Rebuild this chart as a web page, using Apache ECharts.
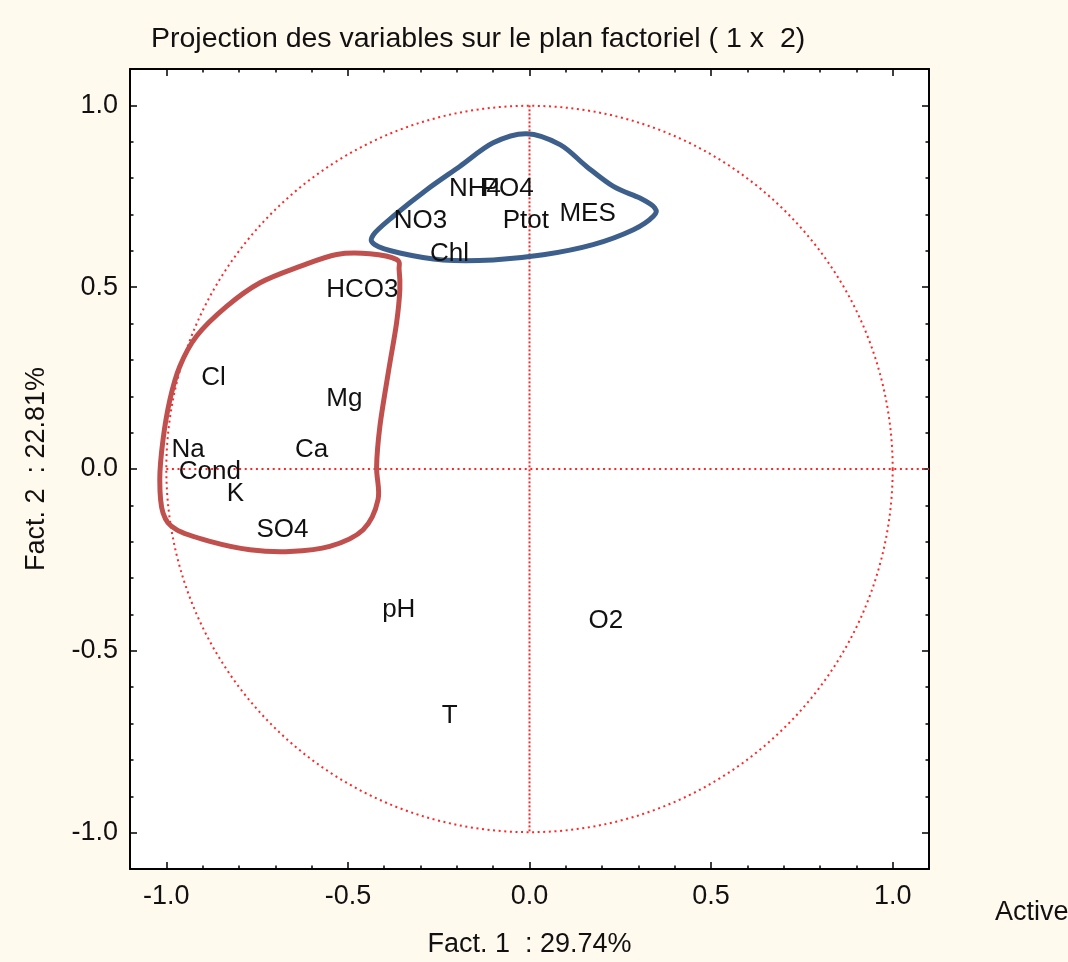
<!DOCTYPE html>
<html>
<head>
<meta charset="utf-8">
<title>Projection des variables sur le plan factoriel</title>
<script src="https://cdn.jsdelivr.net/npm/echarts@6/dist/echarts.min.js"></script>
<style>
  html, body { margin: 0; padding: 0; background: #fff9ee; }
  #chart { width: 1068px; height: 962px; }
</style>
</head>
<body>
<div id="chart"></div>
<script>
// Variable coordinates on factors 1 and 2
const varNames = ['NH4', 'PO4', 'NO3', 'Ptot', 'MES', 'Chl', 'HCO3', 'Cl', 'Mg', 'Na', 'Ca', 'Cond', 'K', 'SO4', 'pH', 'O2', 'T'];
const fact1 = [-0.15, -0.06, -0.30, -0.01, 0.16, -0.22, -0.46, -0.87, -0.51, -0.94, -0.60, -0.88, -0.81, -0.68, -0.36, 0.21, -0.22];
const fact2 = [0.78, 0.78, 0.69, 0.69, 0.71, 0.60, 0.50, 0.26, 0.20, 0.06, 0.06, 0.00, -0.06, -0.16, -0.38, -0.41, -0.67];

// Hand-drawn grouping outlines (factor coordinates)
const blueX = [-0.008, 0.084, 0.157, 0.231, 0.304, 0.345, 0.341, 0.286, 0.175, 0.038, -0.100, -0.238, -0.357, -0.426, -0.430, -0.375, -0.283, -0.192, -0.100];
const blueY = [0.922, 0.892, 0.832, 0.777, 0.745, 0.718, 0.695, 0.658, 0.617, 0.589, 0.575, 0.575, 0.594, 0.617, 0.644, 0.695, 0.768, 0.832, 0.897];
const redX = [-0.632, -0.742, -0.834, -0.917, -0.963, -0.990, -1.009, -1.018, -1.009, -0.972, -0.880, -0.770, -0.660, -0.550, -0.458, -0.417, -0.421, -0.412, -0.389, -0.366, -0.357, -0.359, -0.366, -0.440, -0.531];
const redY = [0.557, 0.512, 0.447, 0.365, 0.282, 0.191, 0.081, -0.029, -0.121, -0.167, -0.199, -0.222, -0.227, -0.213, -0.167, -0.084, 0.007, 0.117, 0.264, 0.402, 0.493, 0.548, 0.576, 0.592, 0.590];

// Axis ticks and labels
const majorTicks = [-1.0, -0.5, 0.0, 0.5, 1.0];
const minorTicks = [-0.9, -0.8, -0.7, -0.6, -0.4, -0.3, -0.2, -0.1, 0.1, 0.2, 0.3, 0.4, 0.6, 0.7, 0.8, 0.9];
const axisMin = -1.1, axisMax = 1.1;

const FONT = 'Liberation Sans, Arial, sans-serif';
const TEXT = '#111111';
const DOT_RED = '#ff2626';

const outlines = [
  { xs: blueX, ys: blueY, color: '#3d5f8b' },
  { xs: redX, ys: redY, color: '#c0504d' }
];

// Closed Catmull-Rom spline through pixel points, as SVG path data
function closedSpline(pts) {
  const n = pts.length;
  let d = 'M' + pts[0][0] + ',' + pts[0][1];
  for (let i = 0; i < n; i++) {
    const p0 = pts[(i - 1 + n) % n], p1 = pts[i], p2 = pts[(i + 1) % n], p3 = pts[(i + 2) % n];
    const c1x = p1[0] + (p2[0] - p0[0]) / 6, c1y = p1[1] + (p2[1] - p0[1]) / 6;
    const c2x = p2[0] - (p3[0] - p1[0]) / 6, c2y = p2[1] - (p3[1] - p1[1]) / 6;
    d += 'C' + c1x + ',' + c1y + ' ' + c2x + ',' + c2y + ' ' + p2[0] + ',' + p2[1];
  }
  return d + 'Z';
}

function makeX(position, ticks, len, withLabels) {
  const ax = {
    type: 'value', min: axisMin, max: axisMax, position: position,
    axisLine: { show: true, onZero: false, lineStyle: { color: '#000', width: 1.5 } },
    axisTick: { show: true, inside: true, length: len, customValues: ticks, lineStyle: { color: '#000', width: 1.5 } },
    axisLabel: { show: false },
    splitLine: { show: false }
  };
  if (withLabels) {
    ax.axisLabel = { show: true, customValues: majorTicks, formatter: v => v.toFixed(1),
      fontSize: 27, color: TEXT, fontFamily: FONT, margin: 14 };
  }
  return ax;
}
function makeY(position, ticks, len, withLabels) {
  const ax = makeX(position, ticks, len, false);
  if (withLabels) {
    ax.axisLabel = { show: true, customValues: majorTicks, formatter: v => v.toFixed(1),
      fontSize: 27, color: TEXT, fontFamily: FONT, margin: 12 };
  }
  return ax;
}

const xAxes = [
  makeX('bottom', majorTicks, 7, true),
  makeX('bottom', minorTicks, 3.5, false),
  makeX('top', majorTicks, 7, false),
  makeX('top', minorTicks, 3.5, false)
];
Object.assign(xAxes[0], {
  name: 'Fact. 1  : 29.74%', nameLocation: 'middle', nameGap: 62,
  nameTextStyle: { fontSize: 27, color: TEXT, fontFamily: FONT }
});
const yAxes = [
  makeY('left', majorTicks, 7, true),
  makeY('left', minorTicks, 3.5, false),
  makeY('right', majorTicks, 7, false),
  makeY('right', minorTicks, 3.5, false)
];
Object.assign(yAxes[0], {
  name: 'Fact. 2  : 22.81%', nameLocation: 'middle', nameGap: 80,
  nameTextStyle: { fontSize: 27, color: TEXT, fontFamily: FONT }
});

const chart = echarts.init(document.getElementById('chart'), null, { renderer: 'canvas' });
chart.setOption({
  backgroundColor: '#fff9ee',
  animation: false,
  title: {
    text: 'Projection des variables sur le plan factoriel ( 1 x  2)',
    left: 146, top: 20,
    textStyle: { fontSize: 28.5, fontWeight: 'normal', color: TEXT, fontFamily: FONT }
  },
  grid: {
    left: 130, right: 139, top: 69, bottom: 93,
    show: true, backgroundColor: '#ffffff', borderColor: '#000', borderWidth: 1.5,
    containLabel: false, outerBoundsMode: 'none'
  },
  xAxis: xAxes,
  yAxis: yAxes,
  graphic: [{
    type: 'text', left: 995, top: 899,
    style: { text: 'Active', fontSize: 27, fill: TEXT, fontFamily: FONT }
  }],
  series: [
    // unit correlation circle
    {
      type: 'custom', coordinateSystem: 'cartesian2d', silent: true, z: 1,
      data: [[0, 0, 1]],
      renderItem: function (params, api) {
        const c = api.coord([api.value(0), api.value(1)]);
        const r = api.size([api.value(2), 0])[0];
        return {
          type: 'circle', shape: { cx: c[0], cy: c[1], r: r },
          style: { fill: 'none', stroke: DOT_RED, lineWidth: 2, lineDash: [2, 3.6] }
        };
      }
    },
    // horizontal axis through origin
    {
      type: 'line', silent: true, z: 1, symbol: 'none',
      data: [[-1.0, 0], [axisMax, 0]],
      lineStyle: { color: DOT_RED, width: 2, type: [2, 3.6] }
    },
    // vertical axis through origin
    {
      type: 'line', silent: true, z: 1, symbol: 'none',
      data: [[0, 1.0], [0, -1.0]],
      lineStyle: { color: DOT_RED, width: 2, type: [2, 2] }
    },
    // group outlines, smoothed closed curves through the outline vertices
    {
      type: 'custom', coordinateSystem: 'cartesian2d', silent: true, z: 3,
      data: outlines.map((o, i) => [o.xs[0], o.ys[0], i]),
      renderItem: function (params, api) {
        const o = outlines[api.value(2)];
        const pts = o.xs.map((x, k) => api.coord([x, o.ys[k]]));
        return {
          type: 'path', shape: { pathData: closedSpline(pts) },
          style: { fill: 'none', stroke: o.color, lineWidth: 5, lineJoin: 'round' }
        };
      }
    },
    // variable labels
    {
      type: 'scatter', z: 4, symbolSize: 2,
      itemStyle: { color: 'rgba(0,0,0,0)', opacity: 1 },
      emphasis: { disabled: true },
      data: varNames.map((n, i) => ({ name: n, value: [fact1[i], fact2[i]] })),
      label: {
        show: true, position: 'inside', formatter: p => p.name, offset: [0, 3],
        fontSize: 26, color: TEXT, fontFamily: FONT, textBorderWidth: 0
      }
    }
  ]
});
</script>
</body>
</html>
